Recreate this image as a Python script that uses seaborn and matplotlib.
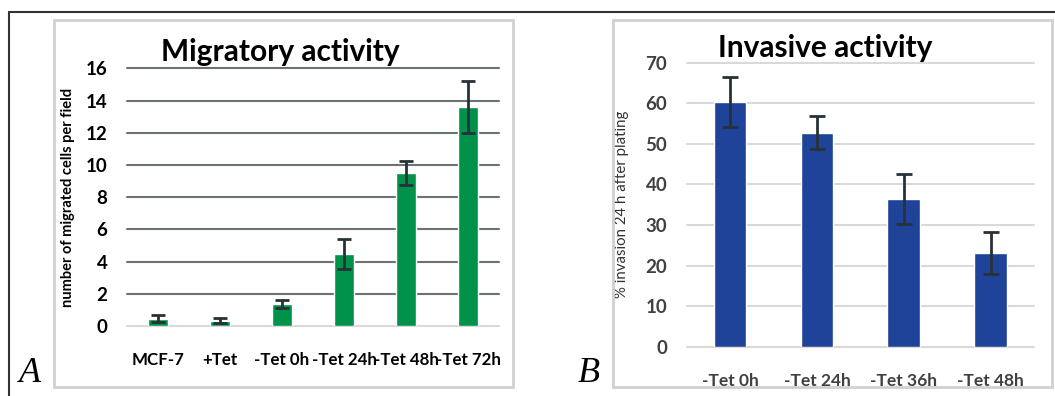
import numpy as np
import pandas as pd
import matplotlib
matplotlib.use("Agg")
import matplotlib.pyplot as plt
from matplotlib.patches import Rectangle
from matplotlib.lines import Line2D
import seaborn as sns

# ---------------- data ----------------
mig_categories = ["MCF-7", "+Tet", "-Tet 0h", "-Tet 24h", "-Tet 48h", "-Tet 72h"]
mig_values = [0.45, 0.33, 1.38, 4.5, 9.5, 13.6]
mig_errors = [0.23, 0.15, 0.26, 0.93, 0.77, 1.6]
mig_yticks = [0, 2, 4, 6, 8, 10, 12, 14, 16]

inv_categories = ["-Tet 0h", "-Tet 24h", "-Tet 36h", "-Tet 48h"]
inv_values = [60.3, 52.7, 36.4, 23.0]
inv_errors = [6.2, 4.05, 6.1, 5.2]
inv_yticks = [0, 10, 20, 30, 40, 50, 60, 70]

sns.set_theme(style="white")
plt.rcParams["font.family"] = ["Lato", "DejaVu Sans"]

W, H = 1055, 396
fig = plt.figure(figsize=(W / 100, H / 100), dpi=100)


def frac(x0, y0, x1, y1):
    return [x0 / W, 1 - y1 / H, (x1 - x0) / W, (y1 - y0) / H]


GREEN = "#00914a"
BLUE = "#1f4398"
ERR = "#263238"

# ---------------- panel A ----------------
axA = fig.add_axes(frac(127, 68.3, 499, 326))
dfA = pd.DataFrame({"cat": mig_categories, "val": mig_values})
sns.barplot(data=dfA, x="cat", y="val", color=GREEN, width=0.31,
            saturation=1, ax=axA, zorder=3)
axA.errorbar(np.arange(len(mig_categories)), mig_values, yerr=mig_errors,
             fmt="none", ecolor=ERR, elinewidth=2, capsize=5, capthick=2,
             zorder=4, clip_on=False)
axA.set_xlim(-0.5, len(mig_categories) - 0.5)
axA.set_ylim(0, 16)
axA.set_yticks(mig_yticks)
for t in mig_yticks:
    axA.axhline(t, color="#d9d9d9" if t == 0 else "#6b7272", lw=1.5,
                zorder=1, clip_on=False)
for s in axA.spines.values():
    s.set_visible(False)
axA.set_xlabel("")
axA.set_ylabel("number of migrated cells per field", fontsize=10.5,
               fontweight="bold", color="black")
axA.yaxis.set_label_coords(-0.14, 0.5)
axA.tick_params(axis="y", length=0, pad=14, labelsize=13.5, labelcolor="black")
axA.tick_params(axis="x", length=0, pad=19, labelsize=12.2, labelcolor="black")
for lbl in axA.get_yticklabels() + axA.get_xticklabels():
    lbl.set_fontweight("bold")
axA.set_facecolor("none")

# ---------------- panel B ----------------
axB = fig.add_axes(frac(686.7, 62.7, 1034, 346.7))
dfB = pd.DataFrame({"cat": inv_categories, "val": inv_values})
sns.barplot(data=dfB, x="cat", y="val", color=BLUE, width=0.376,
            saturation=1, ax=axB, zorder=3)
axB.errorbar(np.arange(len(inv_categories)), inv_values, yerr=inv_errors,
             fmt="none", ecolor=ERR, elinewidth=2, capsize=5.5, capthick=2,
             zorder=4, clip_on=False)
axB.set_xlim(-0.5, len(inv_categories) - 0.5)
axB.set_ylim(0, 70)
axB.set_yticks(inv_yticks)
for t in inv_yticks:
    axB.axhline(t, color="#d9d9d9", lw=1.5, zorder=1, clip_on=False)
for s in axB.spines.values():
    s.set_visible(False)
axB.set_xlabel("")
axB.set_ylabel("% invasion 24 h after plating", fontsize=10.8,
               color="#333333")
axB.yaxis.set_label_coords(-0.166, 0.5)
axB.tick_params(axis="y", length=0, pad=14, labelsize=13.5, labelcolor="#404040")
axB.tick_params(axis="x", length=0, pad=19, labelsize=12.5, labelcolor="#404040")
for lbl in axB.get_yticklabels() + axB.get_xticklabels():
    lbl.set_fontweight("bold")
axB.set_facecolor("none")

# ---------------- titles & letters ----------------
fig.text(280 / W, 1 - 52 / H, "Migratory activity", ha="center", va="center",
         fontsize=21.5, fontweight="bold", color="black")
fig.text(825 / W, 1 - 48 / H, "Invasive activity", ha="center", va="center",
         fontsize=21.5, fontweight="bold", color="black")
fig.text(30 / W, 1 - 373 / H, "A", ha="center", va="center", fontsize=26,
         fontstyle="italic", family="Liberation Serif", color="black")
fig.text(589 / W, 1 - 373 / H, "B", ha="center", va="center", fontsize=26,
         fontstyle="italic", family="Liberation Serif", color="black")

# ---------------- frames ----------------
# white mask below the panel boxes (text is cut off by the box edge)
fig.patches.append(Rectangle((0, 0), 1, 1 - 387 / H, transform=fig.transFigure,
                             facecolor="white", edgecolor="none", zorder=5))
for (x0, x1) in [(54, 513), (613, 1052)]:
    fig.patches.append(Rectangle((x0 / W, 1 - 387 / H), (x1 - x0) / W,
                                 (387 - 20) / H, transform=fig.transFigure,
                                 facecolor="none", edgecolor="#d0d0d0",
                                 lw=2, zorder=6))
fig.lines.append(Line2D([9 / W, 1], [1 - 11.5 / H, 1 - 11.5 / H],
                        transform=fig.transFigure, color="#333333", lw=1.5,
                        zorder=6))
fig.lines.append(Line2D([9 / W, 9 / W], [0, 1 - 11.5 / H],
                        transform=fig.transFigure, color="#333333", lw=1.5,
                        zorder=6))

fig.savefig("out.png", dpi=100, facecolor="white")
